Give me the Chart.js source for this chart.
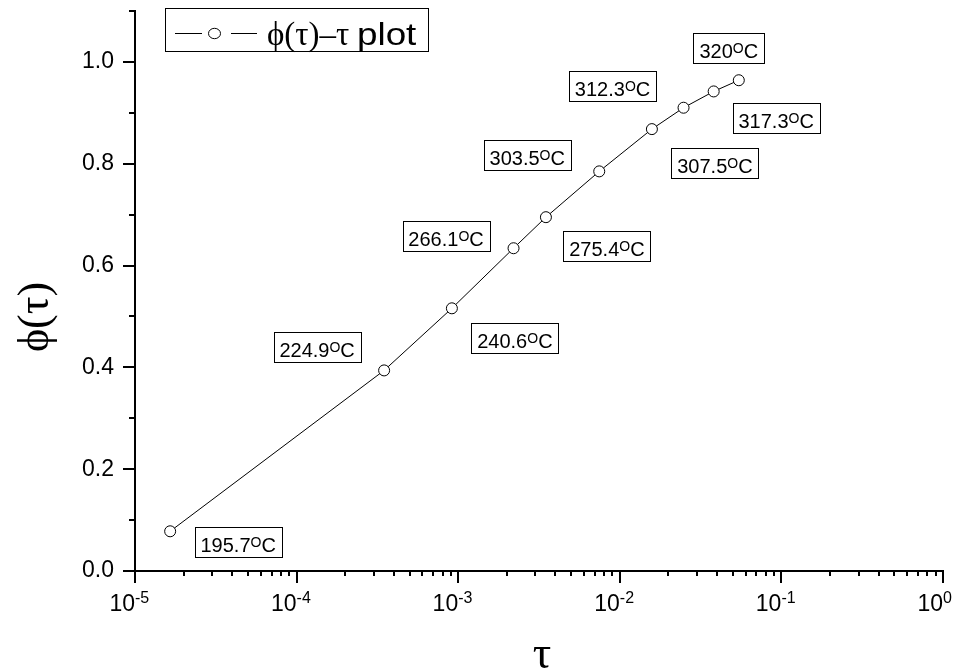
<!DOCTYPE html>
<html><head><meta charset="utf-8">
<script src="https://cdn.jsdelivr.net/npm/chart.js@4.4.1/dist/chart.umd.min.js"></script>
<style>html,body{margin:0;padding:0;background:#fff;}#wrap{width:956px;height:672px;position:relative;}</style>
</head><body><div id="wrap"><canvas id="c" width="956" height="672"></canvas></div>
<script>
// ---- data ----
const tauValues = [1.65e-5, 3.48e-4, 9.14e-4, 2.20e-3, 3.49e-3, 7.46e-3, 0.0158, 0.0248, 0.0381, 0.0545];
const phiValues = [0.078, 0.394, 0.516, 0.634, 0.695, 0.785, 0.868, 0.910, 0.942, 0.964];
const temperatureLabels = ['195.7', '224.9', '240.6', '266.1', '275.4', '303.5', '307.5', '312.3', '317.3', '320'];
const xDecadeExponents = [-5, -4, -3, -2, -1, 0];
const yTickLabels = ['0.0', '0.2', '0.4', '0.6', '0.8', '1.0'];
const legendText = 'ϕ(τ)–τ';
const legendWord = 'plot';
const xTitle = 'τ';
const yTitle = 'ϕ(τ)';

// ---- layout of annotation boxes (pixel offsets from each point) ----
const labelOffsets = [[68, 11], [-67, -23], [63, 29.5], [-67.5, -12], [61, 28.5], [-72, -16.5], [63, 34], [-71, -21.5], [62.5, 26.5], [-10, -32.5]];

const SANS = '"Liberation Sans", Arial, sans-serif';
const SERIF = '"Liberation Serif", "Times New Roman", serif';

const decor = {
  id: 'decor',
  afterDraw(chart) {
    const { ctx, chartArea: a, scales: { x, y } } = chart;
    ctx.save();
    ctx.strokeStyle = '#000';
    ctx.fillStyle = '#000';
    ctx.lineWidth = 2;
    // x ticks
    const lastE = xDecadeExponents[xDecadeExponents.length - 1];
    for (const e of xDecadeExponents) {
      const maxM = e === lastE ? 1 : 9;
      for (let m = 1; m <= maxM; m++) {
        const px = Math.round(x.getPixelForValue(m * Math.pow(10, e)));
        const len = m === 1 ? 12 : 5;
        ctx.beginPath(); ctx.moveTo(px, a.bottom); ctx.lineTo(px, a.bottom + len); ctx.stroke();
      }
    }
    // y ticks
    for (let k = 0; k <= 11; k++) {
      const py = Math.round(y.getPixelForValue(k / 10));
      const len = (k % 2 === 0) ? 12 : 6;
      ctx.beginPath(); ctx.moveTo(a.left - len, py); ctx.lineTo(a.left, py); ctx.stroke();
    }
    // x tick labels (10 with superscript exponent)
    ctx.textBaseline = 'alphabetic';
    for (const e of xDecadeExponents) {
      const px = x.getPixelForValue(Math.pow(10, e));
      ctx.font = '23px ' + SANS; ctx.textAlign = 'right';
      ctx.fillText('10', px, a.bottom + 40);
      ctx.font = '16px ' + SANS; ctx.textAlign = 'left';
      ctx.fillText(String(e), px, a.bottom + 32);
    }
    // axis titles
    ctx.font = '46px ' + SERIF; ctx.textAlign = 'center';
    ctx.fillText(xTitle, (a.left + a.right) / 2 + 3, 668);
    ctx.save();
    ctx.translate(48, 317);
    ctx.rotate(-Math.PI / 2);
    ctx.font = '44px ' + SERIF; ctx.textAlign = 'center';
    ctx.fillText(yTitle, 0, 0);
    ctx.restore();
    // legend
    ctx.lineWidth = 1;
    ctx.strokeRect(165.5, 8.5, 263, 43);
    ctx.beginPath(); ctx.moveTo(175, 33.5); ctx.lineTo(202, 33.5); ctx.moveTo(231, 33.5); ctx.lineTo(257, 33.5); ctx.stroke();
    ctx.beginPath(); ctx.ellipse(214.5, 33.5, 6, 5.2, 0, 0, Math.PI * 2); ctx.fillStyle = '#fff'; ctx.fill(); ctx.stroke();
    ctx.fillStyle = '#000';
    ctx.textAlign = 'left';
    ctx.font = '33px ' + SERIF;
    ctx.fillText(legendText, 267, 45);
    ctx.save();
    ctx.translate(357, 45); ctx.scale(1.15, 1);
    ctx.font = '32px ' + SANS;
    ctx.fillText(legendWord, 0, 0);
    ctx.restore();
    // temperature annotation boxes
    const meta = chart.getDatasetMeta(0);
    meta.data.forEach((pt, i) => {
      const cx = pt.x + labelOffsets[i][0], cy = pt.y + labelOffsets[i][1];
      ctx.font = '20px ' + SANS; const w1 = ctx.measureText(temperatureLabels[i]).width;
      const w3 = ctx.measureText('C').width;
      ctx.font = '14px ' + SANS; const w2 = ctx.measureText('O').width;
      const tw = w1 + w2 + w3, bw = Math.round(tw + 12), bh = 30;
      const bx = Math.round(cx - bw / 2) + 0.5, by = Math.round(cy - bh / 2) + 0.5;
      ctx.fillStyle = '#fff'; ctx.fillRect(bx, by, bw, bh);
      ctx.strokeStyle = '#000'; ctx.lineWidth = 1; ctx.strokeRect(bx, by, bw, bh);
      ctx.fillStyle = '#000';
      let tx = cx - tw / 2; const base = cy + 10;
      ctx.font = '20px ' + SANS; ctx.fillText(temperatureLabels[i], tx, base); tx += w1;
      ctx.font = '14px ' + SANS; ctx.fillText('O', tx, base - 5); tx += w2;
      ctx.font = '20px ' + SANS; ctx.fillText('C', tx, base);
    });
    ctx.restore();
  }
};

new Chart(document.getElementById('c'), {
  type: 'line',
  data: {
    datasets: [{
      label: legendText + ' ' + legendWord,
      data: tauValues.map((t, i) => ({ x: t, y: phiValues[i] })),
      borderColor: '#000',
      borderWidth: 1,
      tension: 0,
      pointRadius: 5.5,
      pointBorderWidth: 1,
      pointBorderColor: '#000',
      pointBackgroundColor: '#fff',
      fill: false
    }]
  },
  options: {
    responsive: false,
    animation: false,
    devicePixelRatio: 1,
    layout: { padding: { left: 0, right: 13, top: 11, bottom: 0 } },
    plugins: { legend: { display: false }, tooltip: { enabled: false } },
    scales: {
      x: {
        type: 'logarithmic', min: 1e-5, max: 1, position: 'bottom',
        afterFit(s) { s.height = 101; s.paddingLeft = 0; s.paddingRight = 0; },
        grid: { display: false, drawTicks: false },
        border: { display: true, color: '#000', width: 2 },
        ticks: { display: false }
      },
      y: {
        type: 'linear', min: 0, max: 1.1, position: 'left',
        afterFit(s) { s.width = 135; s.paddingTop = 0; s.paddingBottom = 0; },
        grid: { display: false, drawTicks: false },
        border: { display: true, color: '#000', width: 2 },
        ticks: {
          stepSize: 0.1, autoSkip: false, padding: 21, color: '#000',
          font: { family: 'Liberation Sans', size: 23 },
          callback: (v) => { const k = Math.round(v * 10); return (k % 2 === 0 && k <= 10) ? yTickLabels[k / 2] : null; }
        }
      }
    }
  },
  plugins: [decor]
});
</script>
</body></html>
